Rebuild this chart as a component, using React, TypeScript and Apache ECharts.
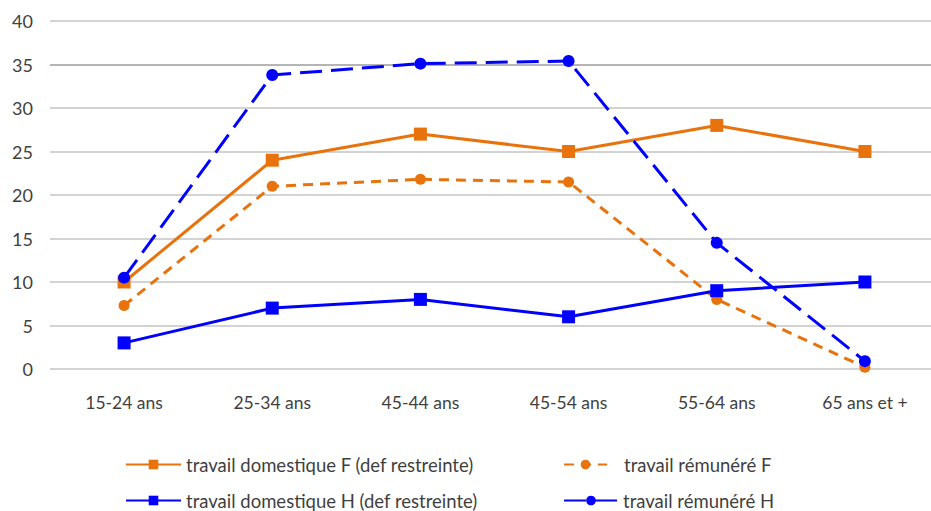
import React, { useEffect, useRef } from "react";
import * as echarts from "echarts";

const categories = ["15-24 ans", "25-34 ans", "45-44 ans", "45-54 ans", "55-64 ans", "65 ans et +"];
const domestiqueF = [10, 24, 27, 25, 28, 25];
const remunereF = [7.3, 21, 21.8, 21.5, 8, 0.2];
const domestiqueH = [3, 7, 8, 6, 9, 10];
const remunereH = [10.5, 33.8, 35.1, 35.4, 14.5, 0.9];

const NAME_DOM_F = "travail domestique F (def restreinte)";
const NAME_REM_F = "travail rémunéré F";
const NAME_DOM_H = "travail domestique H (def restreinte)";
const NAME_REM_H = "travail rémunéré H";

const ORANGE = "#E8720C";
const BLUE = "#0000FF";
const FONT = "Lato, 'Open Sans', sans-serif";
const TEXT = "#3f3f3f";

// The plot runs a little past the right edge of the visible frame,
// so the chart canvas is wider than the clipping wrapper.
const CHART_W = 960;

function legendItem(name: string, left: number, top: number, itemWidth: number, gap: number) {
  return {
    orient: "horizontal",
    left,
    top,
    padding: 0,
    itemWidth,
    itemHeight: 12,
    itemGap: gap,
    textStyle: { color: TEXT, fontSize: 18.5, fontFamily: FONT, padding: [0, 0, 0, gap - 5] },
    data: [name],
  };
}

export default function App() {
  const ref = useRef<HTMLDivElement>(null);

  useEffect(() => {
    if (!ref.current) return;
    const chart = echarts.init(ref.current, undefined, { renderer: "svg" });
    const gridColors = ["#c4c4c4", "#c4c4c4", "#c4c4c4", "#c4c4c4", "#c4c4c4", "#c4c4c4", "#c4c4c4", "#9c9c9c", "#c4c4c4"];
    chart.setOption({
      animation: false,
      textStyle: { fontFamily: FONT },
      grid: { left: 50, right: CHART_W - 939, top: 21, bottom: 511 - 369 },
      xAxis: {
        type: "category",
        data: categories,
        boundaryGap: true,
        axisLine: { show: false },
        axisTick: { show: false },
        axisLabel: { color: TEXT, fontSize: 17.5, margin: 24, fontFamily: FONT },
      },
      yAxis: {
        type: "value",
        min: 0,
        max: 40,
        interval: 5,
        axisLine: { show: false },
        axisTick: { show: false },
        axisLabel: { color: TEXT, fontSize: 18, margin: 17, fontFamily: FONT },
        splitLine: { lineStyle: { color: gridColors, width: 1.5 } },
      },
      legend: [
        legendItem(NAME_DOM_F, 125, 455, 55, 5),
        legendItem(NAME_DOM_H, 125, 491, 55, 5),
        legendItem(NAME_REM_F, 563, 455, 43, 17),
        legendItem(NAME_REM_H, 563, 491, 54, 5),
      ],
      series: [
        {
          name: NAME_DOM_F,
          type: "line",
          data: domestiqueF,
          symbol: "rect",
          symbolSize: 13,
          lineStyle: { color: ORANGE, width: 3 },
          itemStyle: { color: ORANGE },
        },
        {
          name: NAME_REM_F,
          type: "line",
          data: remunereF,
          symbol: "circle",
          symbolSize: 11,
          lineStyle: { color: ORANGE, width: 3, type: [10, 7] },
          itemStyle: { color: ORANGE },
        },
        {
          name: NAME_DOM_H,
          type: "line",
          data: domestiqueH,
          symbol: "rect",
          symbolSize: 13,
          lineStyle: { color: BLUE, width: 3 },
          itemStyle: { color: BLUE },
        },
        {
          name: NAME_REM_H,
          type: "line",
          data: remunereH,
          symbol: "circle",
          symbolSize: 12,
          lineStyle: { color: BLUE, width: 3, type: [22, 9] },
          itemStyle: { color: BLUE },
        },
      ],
    });
    return () => chart.dispose();
  }, []);

  return (
    <div style={{ position: "absolute", left: 0, top: 0, width: 931, height: 511, overflow: "hidden" }}>
      <div ref={ref} style={{ width: CHART_W, height: 511 }} />
    </div>
  );
}
